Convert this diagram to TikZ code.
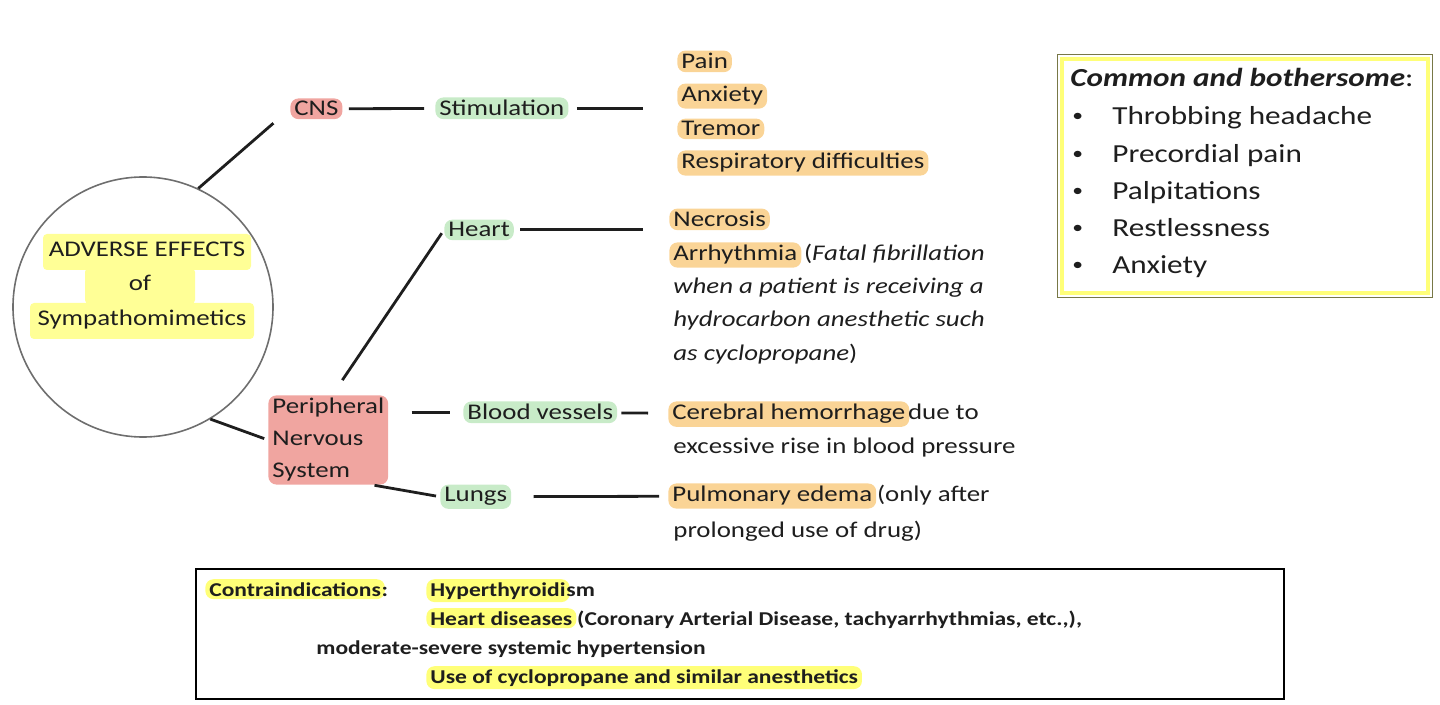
\documentclass[tikz,border=0pt]{standalone}
\usepackage{fontspec}
\setmainfont{Carlito}[FakeStretch=1.2]
\usepackage{tikz}
\usetikzlibrary{calc, positioning}
\definecolor{ink}{RGB}{30,30,30}
\definecolor{rimgray}{RGB}{110,110,110}
\definecolor{hlpink}{RGB}{240,165,160}
\definecolor{hlgreen}{RGB}{200,235,200}
\definecolor{hlorange}{RGB}{250,212,150}
\definecolor{hlyellow}{RGB}{255,255,120}
\definecolor{hubyellow}{RGB}{255,255,150}
\definecolor{boxrim}{RGB}{120,120,70}
\newcommand{\mainsize}{\fontsize{11.2}{16}\selectfont}
\newcommand{\commonsize}{\fontsize{13}{18}\selectfont}
\newcommand{\contrasize}{\fontsize{9.8}{14}\selectfont\bfseries}
\tikzset{
    textnode/.style = {draw=none, fill=none, rectangle, inner sep=0em, anchor=base west},
    roundnode/.style = {draw=none, rectangle, rounded corners=0.4em, inner xsep=2pt, inner ysep=1.5pt,
      anchor=base west},
    pinknode/.style = {roundnode, fill=hlpink},
    greennode/.style = {roundnode, fill=hlgreen},
    orangenode/.style = {roundnode, fill=hlorange},
    yellownode/.style = {roundnode, fill=hlyellow},
    hubnode/.style = {roundnode, fill=hubyellow, anchor=base, rounded corners=0.2em,
      text height=8pt, text depth=3pt, inner ysep=3.5pt},
    circlenode/.style = {circle, draw=rimgray, line width=0.8pt, inner sep=0em},
    shapenode/.style = {draw, rectangle, fill=none, inner sep=0em},
    connect/.style = {draw=ink, line width=1.4pt}
}

\begin{document}
\begin{tikzpicture}[x=0.5pt, y=-0.5pt, font=\mainsize, text=ink]
    \useasboundingbox (0,0) rectangle (1440,705);

    % hub
    \node [circlenode, name=hub, minimum size=130pt] at (143,307) {};
    \node [hubnode, name=hubA, minimum width=104pt] at (147,257) {ADVERSE EFFECTS};
    \node [hubnode, name=hubB, minimum width=55pt] at (140,291) {of};
    \node [hubnode, name=hubC, minimum width=112pt] at (142,326) {Sympathomimetics};

    % branches
    \node [pinknode, name=cns] at (290,116) {CNS};
    \node [greennode, name=stim] at (435,116) {Stimulation};
    \node [greennode, name=heart] at (444,237) {Heart};
    \node [pinknode, name=pns, anchor=north west, align=left] at (268,395) {Peripheral\\Nervous\\System};
    \node [greennode, name=bv] at (463,420) {Blood vessels};
    \node [greennode, name=lungs] at (440,502) {Lungs};

    % CNS effects
    \node [orangenode, name=pain] at (677,69) {Pain};
    \node [orangenode, name=anx] at (677,102) {Anxiety};
    \node [orangenode, name=tremor] at (677,136) {Tremor};
    \node [orangenode, name=resp] at (677,169) {Respiratory difficulties};
    \coordinate (stimlink) at (643,111);

    % heart effects
    \node [orangenode, name=necro] at (669,227) {Necrosis};
    \node [orangenode, name=arr] at (669,261) {Arrhythmia};
    \node [textnode, name=arrA, xshift=1pt] at (arr.base east) {(\textit{Fatal fibrillation}};
    \node [textnode, name=arrB] at (673,294) {\textit{when a patient is receiving a}};
    \node [textnode, name=arrC] at (673,327) {\textit{hydrocarbon anesthetic such}};
    \node [textnode, name=arrD] at (673,361) {\textit{as cyclopropane})};
    \coordinate (heartlink) at (643,233);

    % vessel and lung effects
    \node [orangenode, name=cereb] at (668,420) {Cerebral hemorrhage};
    \node [textnode, name=cerebA, xshift=-1pt] at (cereb.base east) {due to};
    \node [textnode, name=cerebB] at (673,453) {excessive rise in blood pressure};
    \node [orangenode, name=pulm] at (668,502) {Pulmonary edema};
    \node [textnode, name=pulmA] at (pulm.base east) {(only after};
    \node [textnode, name=pulmB] at (673,537) {prolonged use of drug)};

    % connectors
    \draw [connect, shorten >=11pt] (hub.65) -- (cns.west);
    \draw [connect, shorten >=2pt] (hub.-59) -- (pns.west);
    \draw [connect, shorten <=3pt, shorten >=5.5pt] (cns) -- (stim);
    \draw [connect, shorten <=4pt] (stim) -- (stim -| stimlink);
    \draw [connect, shorten <=3pt] (heart) -- (heart -| heartlink);
    \draw [connect, shorten <=9pt, shorten >=2pt] ([xshift=2pt]pns.north) -- (heart.west);
    \draw [connect, shorten <=11.5pt, shorten >=6.5pt] (pns.east |- bv.west) -- (bv.west);
    \draw [connect, shorten <=2pt, shorten >=10pt] (bv) -- (cereb);
    \draw [connect, shorten <=1pt, shorten >=2pt] ([xshift=-8pt]pns.south east) -- (lungs.west);
    \draw [connect, shorten <=11pt, shorten >=4.5pt] (lungs) -- (pulm);

    % common and bothersome
    \node [shapenode, name=common, draw=hlyellow, line width=2.2pt, anchor=north west,
        minimum width=183pt, minimum height=117pt] at (1060,57) {};
    \draw [boxrim, line width=0.6pt] ([shift={(-1.1pt,1.1pt)}]common.north west)
        rectangle ([shift={(1.1pt,-1.1pt)}]common.south east);
    \node [textnode, name=commonhead, font=\commonsize] at (1070,87) {\textbf{\textit{Common and bothersome}}:};
    \foreach \y/\t [count=\i] in {125/Throbbing headache, 163/Precordial pain, 200/Palpitations,
        237/Restlessness, 274/Anxiety} {
        \node [textnode, name=bul\i, font=\fontsize{9}{10}\selectfont] at (1072,\y-3) {•};
        \node [textnode, name=sym\i, font=\commonsize] at (1112,\y) {\t};
    }

    % contraindications
    \node [shapenode, name=contra, line width=1pt, anchor=north west,
        minimum width=544pt, minimum height=65pt] at (195,568) {};
    \begin{scope}[every node/.append style={font=\contrasize}]
        \node [yellownode, name=ci] at (205,596) {Contraindications};
        \node [textnode, name=ciA, xshift=-2pt] at (ci.base east) {:};
        \node [yellownode, name=hyper] at (426,596) {Hyperthyroidi};
        \node [textnode, name=hyperA, xshift=-2pt] at (hyper.base east) {sm};
        \node [yellownode, name=hd] at (426,625) {Heart diseases};
        \node [textnode, name=hdA] at (hd.base east) {(Coronary Arterial Disease, tachyarrhythmias, etc.,),};
        \node [textnode, name=htn] at (316,654) {moderate-severe systemic hypertension};
        \node [yellownode, name=cyclo] at (426,683) {Use of cyclopropane and similar anesthetics};
    \end{scope}
\end{tikzpicture}
\end{document}
